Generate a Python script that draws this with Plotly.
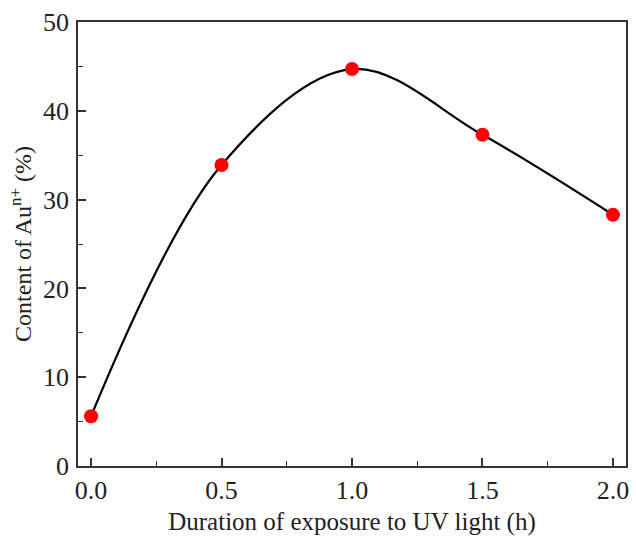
import plotly.graph_objects as go

duration_h = [0.0, 0.5, 1.0, 1.5, 2.0]
content_pct = [5.6, 33.9, 44.7, 37.3, 28.3]

x_ticks = [0.0, 0.5, 1.0, 1.5, 2.0]
x_tick_labels = ["0.0", "0.5", "1.0", "1.5", "2.0"]
y_ticks = [0, 10, 20, 30, 40, 50]

font_family = "Liberation Serif, Times New Roman, serif"

fig = go.Figure()
fig.add_trace(go.Scatter(
    x=duration_h, y=content_pct,
    mode="lines",
    line=dict(color="black", width=2.2, shape="spline", smoothing=1.0),
    hoverinfo="skip", showlegend=False,
))
fig.add_trace(go.Scatter(
    x=duration_h, y=content_pct,
    mode="markers",
    marker=dict(color="#ff0000", size=14, line=dict(width=0)),
    showlegend=False,
))

axis_common = dict(
    showline=True, linecolor="#333333", linewidth=1.6, mirror=True,
    ticks="inside", ticklen=8, tickwidth=1.6, tickcolor="#333333",
    showgrid=False, zeroline=False,
    tickfont=dict(family=font_family, size=26, color="#222222"),
)

fig.update_xaxes(
    range=[-0.05, 2.05],
    tickvals=x_ticks, ticktext=x_tick_labels,
    minor=dict(ticks="inside", ticklen=5, tickwidth=1.4, tickcolor="#333333", dtick=0.25, tick0=0),
    title=dict(text="Duration of exposure to UV light (h)",
               font=dict(family=font_family, size=25, color="#222222"), standoff=8),
    **axis_common,
)
fig.update_yaxes(
    range=[0, 50],
    tickvals=y_ticks,
    minor=dict(ticks="inside", ticklen=5, tickwidth=1.4, tickcolor="#333333", dtick=5, tick0=0),
    title=dict(text="Content of Au<sup>n+</sup> (%)",
               font=dict(family=font_family, size=24, color="#222222"), standoff=5),
    ticklabelstandoff=2,
    **axis_common,
)

fig.update_layout(
    width=636, height=545,
    margin=dict(l=78, r=7, t=22, b=79),
    plot_bgcolor="white", paper_bgcolor="white",
)

fig.write_html("out.html")
